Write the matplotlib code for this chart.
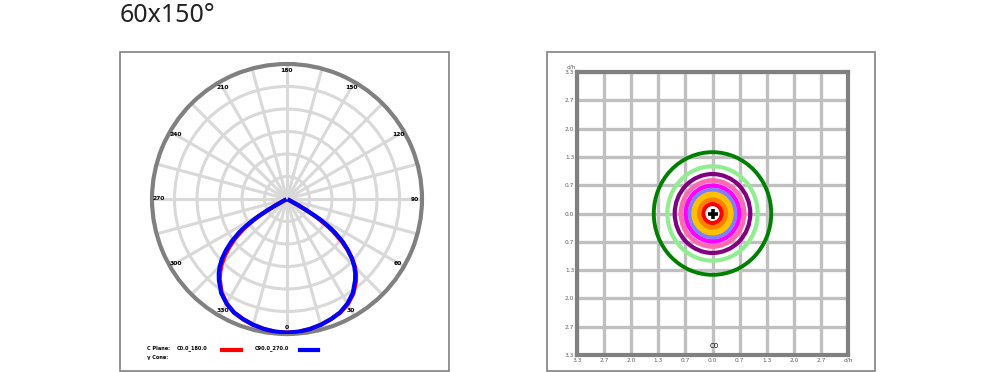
import numpy as np
import matplotlib
matplotlib.use("Agg")
import matplotlib.pyplot as plt
from matplotlib.patches import Circle, Rectangle

# ---- data ----------------------------------------------------------------
title = "60x150°"

# polar intensity curve (relative, 1.0 = outer ring), gamma in degrees
gamma = [0, 5, 10, 15, 20, 25, 30, 35, 40, 42.5, 45, 47.5, 50, 52.5, 55,
         56, 57, 58, 59, 60, 61, 62]
i_c0 = [0.99, 0.987, 0.978, 0.965, 0.948, 0.93, 0.9, 0.857, 0.795, 0.757, 0.712,
        0.655, 0.585, 0.505, 0.41, 0.37, 0.325, 0.28, 0.22, 0.155, 0.09, 0.02]
i_c180 = [0.99, 0.987, 0.978, 0.965, 0.948, 0.928, 0.893, 0.845, 0.775, 0.732, 0.685,
          0.627, 0.56, 0.49, 0.405, 0.365, 0.322, 0.278, 0.22, 0.155, 0.09, 0.02]
i_c90 = [0.99, 0.987, 0.978, 0.965, 0.948, 0.928, 0.895, 0.85, 0.785, 0.748, 0.705,
         0.652, 0.59, 0.52, 0.435, 0.395, 0.35, 0.30, 0.24, 0.17, 0.10, 0.02]
i_c270 = [0.99, 0.987, 0.978, 0.965, 0.948, 0.928, 0.895, 0.85, 0.785, 0.748, 0.705,
          0.652, 0.59, 0.52, 0.435, 0.395, 0.35, 0.30, 0.24, 0.17, 0.10, 0.02]

polar_labels = [0, 30, 60, 90, 120, 150, 180, 210, 240, 270, 300, 330]

# isolux diagram: d/h grid and contour radii
grid_ticks = [-3.3, -2.64, -1.98, -1.32, -0.66, 0.0, 0.66, 1.32, 1.98, 2.64, 3.3]
y_tick_labels = ["3.3", "2.7", "2.0", "1.3", "0.7", "0.0", "0.7", "1.3", "2.0", "2.7", "3.3"]
x_tick_labels = ["3.3", "2.7", "2.0", "1.3", "0.7", "0.0", "0.7", "1.3", "2.0", "2.7", "d/h"]
ring_radii = [1.43, 1.10, 0.92, 0.77, 0.65, 0.55, 0.43, 0.32, 0.22]
ring_colors = ["#008000", "#90ee90", "#800080", "#ff69b4", "#ff00ff",
               "#8080ff", "#ffc000", "#ff8000", "#ff0000"]
ring_widths = [2.8, 3.0, 3.0, 3.4, 3.2, 3.2, 5.0, 3.4, 3.0]

# ---- figure --------------------------------------------------------------
W, H = 1000, 372
fig = plt.figure(figsize=(W / 100, H / 100), dpi=100)
fig.patch.set_facecolor("white")


def fx(px):
    return px / W


def fy(py):
    return 1 - py / H


fig.text(fx(120), fy(3), title, fontsize=18, family="Noto Sans",
         ha="left", va="top", color="#222222")

# panel frames
for x0, x1 in [(120, 449), (547, 875)]:
    fig.patches.append(Rectangle((fx(x0), fy(371)), fx(x1 - x0), (371 - 52) / H,
                                 transform=fig.transFigure, fill=False,
                                 ec="#808080", lw=1.2, zorder=0))

# ---- polar diagram -------------------------------------------------------
cx, cy, R = 287, 199, 135
ax = fig.add_axes([fx(cx - R), fy(cy + R), 2 * R / W, 2 * R / H], projection="polar")
ax.set_theta_zero_location("S")
ax.set_theta_direction(1)
ax.set_ylim(0, 1)
ax.set_rticks([k / 6 for k in range(1, 6)])
ax.set_yticklabels([])
ax.set_thetagrids(range(0, 360, 15), labels=[""] * 24)
ax.grid(color="#d9d9d9", lw=2.2)
ax.spines["polar"].set_color("#808080")
ax.spines["polar"].set_linewidth(3)
ax.tick_params(pad=0)

g = np.radians(gamma)
# C0 on the right, C180 mirrored to the left
th = np.concatenate([-g[::-1], g])
r_red = np.concatenate([i_c180[::-1], i_c0])
r_blue = np.concatenate([i_c270[::-1], i_c90])
ax.plot(th, r_red, color="#ff0000", lw=3.0, zorder=3)
ax.plot(th, r_blue, color="#0000ff", lw=3.0, zorder=4)

for a in polar_labels:
    ax.text(np.radians(a), 0.95, str(a), ha="center", va="center",
            fontsize=4.3, fontweight="bold", color="black", zorder=6)

# legend
fs = 3.6
fig.text(fx(147), fy(348), "C Plane:", fontsize=fs, fontweight="bold", va="center")
fig.text(fx(147), fy(357), "γ Cone:", fontsize=fs, fontweight="bold", va="center")
fig.text(fx(177), fy(348), "C0.0_180.0", fontsize=fs, fontweight="bold", va="center")
fig.text(fx(255), fy(348), "C90.0_270.0", fontsize=fs, fontweight="bold", va="center")
fig.lines.append(plt.Line2D([fx(222), fx(241)], [fy(350), fy(350)],
                            transform=fig.transFigure, color="#ff0000", lw=3))
fig.lines.append(plt.Line2D([fx(300), fx(318)], [fy(350), fy(350)],
                            transform=fig.transFigure, color="#0000ff", lw=3))

# ---- isolux diagram ------------------------------------------------------
bx = fig.add_axes([fx(577), fy(355), (848 - 577) / W, (355 - 72) / H])
bx.set_xlim(-3.3, 3.3)
bx.set_ylim(-3.3, 3.3)
bx.set_xticks(grid_ticks)
bx.set_yticks(grid_ticks)
bx.set_xticklabels(x_tick_labels)
bx.set_yticklabels(y_tick_labels)
bx.tick_params(length=0, labelsize=4.2, labelcolor="#606060", pad=2)
bx.grid(color="#c0c0c0", lw=2.4)
bx.set_axisbelow(True)
for s in bx.spines.values():
    s.set_color("#808080")
    s.set_linewidth(3)
bx.text(-3.45, 3.35, "d/h", fontsize=4.2, color="#606060", ha="center", va="bottom",
        clip_on=False)
bx.text(0.05, -3.15, "C0", fontsize=5, ha="center", va="bottom", zorder=5)

for r, c, w in zip(ring_radii, ring_colors, ring_widths):
    bx.add_patch(Circle((0, 0), r, fill=False, ec=c, lw=w, zorder=3))
bx.add_patch(Circle((0, 0), ring_radii[-1] - 0.05, fc="white", ec="none", zorder=3))
bx.plot([0], [0], marker="+", color="black", ms=7, mew=2.6, zorder=4)

fig.savefig("out.png", dpi=100)
